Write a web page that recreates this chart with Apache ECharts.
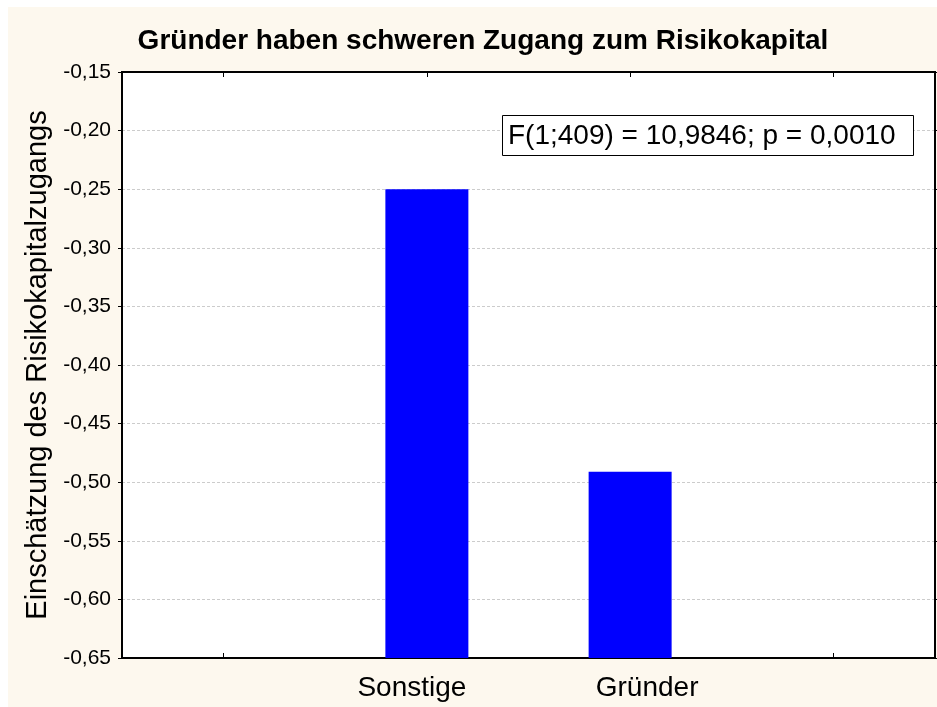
<!DOCTYPE html>
<html>
<head>
<meta charset="utf-8">
<script src="https://cdn.jsdelivr.net/npm/echarts@6/dist/echarts.min.js"></script>
<style>
  html, body { margin: 0; padding: 0; background: #ffffff; }
  #frame { position: absolute; left: 8px; top: 7px; right: 0; bottom: 0; background: #fdf8ee; }
  #chart { position: absolute; left: 0; top: 0; width: 937px; height: 707px; }
</style>
</head>
<body>
<div id="frame"></div>
<div id="chart"></div>
<script>
// Group labels (blank slots left and right of the two groups)
const categories = ['', 'Sonstige', 'Gründer', ''];
// Mean rating of access to venture capital per group
const meanValues = [null, -0.25, -0.491, null];
// Value axis range and step
const axisMin = -0.65;
const axisMax = -0.15;
const axisStep = 0.05;

const titleText = 'Gründer haben schweren Zugang zum Risikokapital';
const yAxisName = 'Einschätzung des Risikokapitalzugangs';
const statText = 'F(1;409) = 10,9846; p = 0,0010';

const font = '"Liberation Sans", Arial, sans-serif';
const chart = echarts.init(document.getElementById('chart'), null, { renderer: 'canvas' });

const fmt = v => v.toFixed(2).replace('.', ',');

// Category labels sit slightly apart from the bar centres
const catLabel = (v, i) => i === 1 ? '{l|' + v + '}' : (i === 2 ? '{r|' + v + '}' : v);
const catRich = {
  l: { fontFamily: font, fontSize: 28, color: '#000', padding: [0, 30, 0, 0] },
  r: { fontFamily: font, fontSize: 28, color: '#000', padding: [0, 0, 0, 34] }
};

chart.setOption({
  backgroundColor: 'transparent',
  animation: false,
  title: {
    text: titleText,
    left: 478, textAlign: 'center', top: 22,
    textStyle: { fontFamily: font, fontSize: 28, fontWeight: 'bold', color: '#000' }
  },
  grid: {
    left: 122, top: 72, right: 2, bottom: 49,
    show: true, backgroundColor: '#ffffff', borderColor: '#000', borderWidth: 2
  },
  xAxis: [
    {
      type: 'category', data: categories, position: 'bottom',
      axisLine: { lineStyle: { color: '#000', width: 2 } },
      axisTick: { show: true, inside: true, length: 5, alignWithLabel: true, lineStyle: { color: '#000', width: 1 } },
      axisLabel: { fontFamily: font, fontSize: 28, color: '#000', margin: 16, formatter: catLabel, rich: catRich }
    },
    {
      type: 'category', data: categories, position: 'top',
      axisLine: { lineStyle: { color: '#000', width: 2 } },
      axisTick: { show: true, inside: true, length: 5, alignWithLabel: true, lineStyle: { color: '#000', width: 1 } },
      axisLabel: { show: false }
    }
  ],
  yAxis: [
    {
      type: 'value', min: axisMin, max: axisMax, interval: axisStep, startValue: axisMin,
      name: yAxisName, nameLocation: 'middle', nameGap: 70, nameRotate: 90,
      nameTextStyle: { fontFamily: font, fontSize: 29, color: '#000' },
      axisLine: { show: true, lineStyle: { color: '#000', width: 2 } },
      axisTick: { show: true, length: 4, lineStyle: { color: '#000', width: 1 } },
      axisLabel: { fontFamily: font, fontSize: 21, color: '#000', margin: 11, formatter: fmt },
      splitLine: { show: true, lineStyle: { color: '#cccccc', type: [3, 2], width: 1 } }
    },
    {
      type: 'value', min: axisMin, max: axisMax, interval: axisStep, position: 'right',
      axisLine: { show: true, lineStyle: { color: '#000', width: 2 } },
      axisTick: { show: true, length: 3, lineStyle: { color: '#000', width: 1 } },
      axisLabel: { show: false },
      splitLine: { show: false }
    }
  ],
  series: [{
    type: 'bar',
    data: meanValues,
    barWidth: 83,
    itemStyle: { color: '#0000ff' }
  }],
  graphic: [
    {
      type: 'rect',
      shape: { x: 502.5, y: 115.5, width: 411, height: 40 },
      style: { fill: '#ffffff', stroke: '#000', lineWidth: 1 },
      z: 100
    },
    {
      type: 'text',
      x: 508, y: 136,
      style: {
        text: statText, fontFamily: font, fontSize: 28, fill: '#000',
        textVerticalAlign: 'middle', verticalAlign: 'middle'
      },
      z: 101
    }
  ]
});
</script>
</body>
</html>
